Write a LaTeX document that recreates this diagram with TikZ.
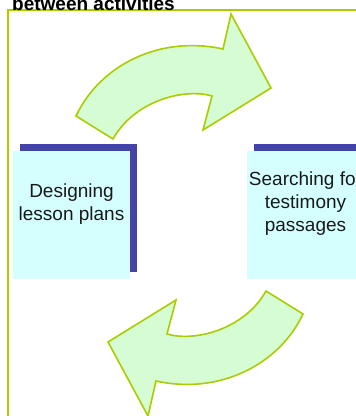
\documentclass[tikz,border=0pt]{standalone}
\usepackage{fontspec}
\setmainfont{Liberation Sans}
\usepackage{xcolor}
\usepackage{tikz}
\usetikzlibrary{
  positioning,
  calc,
  shadows
}

\definecolor{waku}{RGB}{170,204,0}
\definecolor{yaji}{RGB}{213,252,211}
\definecolor{hako}{RGB}{213,255,255}
\definecolor{kage}{RGB}{68,68,168}

\begin{document}
\begin{tikzpicture}[x=1pt,y=-1pt,
  box/.style={rectangle,fill=hako,minimum width=117pt,minimum height=128pt,inner sep=0pt,
    drop shadow={shadow xshift=7pt,shadow yshift=7pt,fill=kage,opacity=1}},
  boxtext/.style={align=center,inner sep=0pt,font=\fontsize{19}{23}\selectfont,text=black!90},
  yajirushi/.style={fill=yaji,draw=waku,line width=1.6pt,line join=miter}]
  \useasboundingbox (0,0) rectangle (356,416);
  \clip (0,0) rectangle (356,416);

  % 枠
  \draw[waku,line width=2pt] (8,430) -- (8,9.5) -- (370,9.5);
  % 見出し
  \node[anchor=base west,inner sep=0pt,font=\fontsize{19}{23}\selectfont\bfseries] (title) at (12,10) {between activities};

  % 箱
  \node[box] (design) at (71.5,215) {};
  \node[box] (search) at (305.5,215) {};
  \node[boxtext] (designtext) at ($(design.center)+(0,-11)$) {Designing\\lesson plans};
  \node[boxtext] (searchtext) at ($(search.center)+(0,-11)$) {Searching for\\testimony\\passages};

  % 矢印（下の矢印は上の矢印を180度回転）
  \foreach \ang in {0,180}
    \draw[yajirushi,rotate around={\ang:(189.5,215)}]
      (76,116) .. controls (100,65) and (160,35) .. (223,49)
      -- (231,14) -- (271,88) -- (203,130) -- (212,96)
      .. controls (185,88) and (135,100) .. (113,139) -- cycle;
\end{tikzpicture}
\end{document}
